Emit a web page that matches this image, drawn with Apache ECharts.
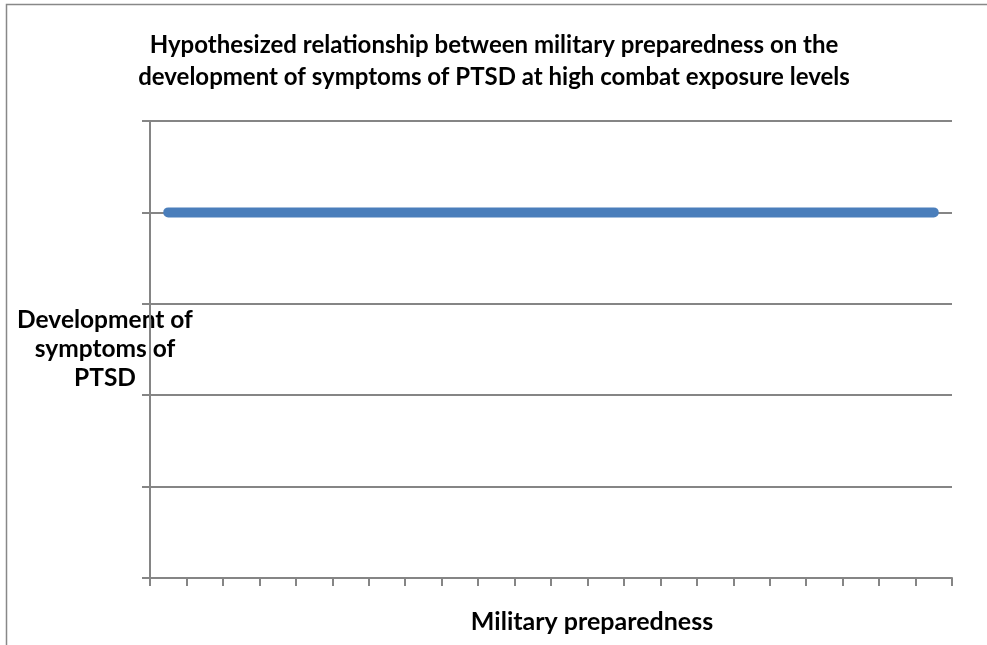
<!DOCTYPE html>
<html>
<head>
<meta charset="utf-8">
<script src="https://cdn.jsdelivr.net/npm/echarts@6/dist/echarts.min.js"></script>
<style>
  html, body { margin: 0; padding: 0; background: #fff; }
  #chart { width: 987px; height: 645px; }
</style>
</head>
<body>
<div id="chart"></div>
<script>
// 22 category slots along the preparedness axis (no labels drawn)
const categories = Array.from({ length: 22 }, (_, i) => String(i + 1));
// Hypothesized symptom level: constant across preparedness
const symptomLevels = [4, 4, 4, 4, 4, 4, 4, 4, 4, 4, 4, 4, 4, 4, 4, 4, 4, 4, 4, 4, 4, 4];
const yMin = 0, yMax = 5, yStep = 1;

const chartTitle = 'Hypothesized relationship between military preparedness on the\ndevelopment of symptoms of PTSD at high combat exposure levels';
const xName = 'Military preparedness';
const yName = 'Development of\nsymptoms of\nPTSD';

const FONT = 'Lato';
const WEIGHT = 'bold';
const AXIS_GREY = '#858585';

const chart = echarts.init(document.getElementById('chart'), null, { renderer: 'canvas' });
chart.setOption({
  animation: false,
  backgroundColor: '#fff',
  graphic: [{
    type: 'rect',
    shape: { x: 6.5, y: 4.5, width: 1100, height: 800 },
    style: { fill: 'none', stroke: '#888', lineWidth: 1.5 },
    silent: true
  }],
  title: {
    text: chartTitle,
    left: 489,
    top: 24,
    textAlign: 'center',
    textStyle: {
      fontFamily: FONT, fontWeight: WEIGHT, fontSize: 24, lineHeight: 32, color: '#000'
    }
  },
  grid: { left: 150, right: 35, top: 121, bottom: 67, containLabel: false },
  xAxis: {
    type: 'category',
    data: categories,
    boundaryGap: true,
    name: xName,
    nameLocation: 'middle',
    nameGap: 31,
    nameTextStyle: {
      fontFamily: FONT, fontWeight: WEIGHT, fontSize: 25, color: '#000',
      padding: [0, 0, 0, 82]
    },
    axisLine: { show: true, lineStyle: { color: AXIS_GREY, width: 2 } },
    axisTick: { show: true, length: 8, lineStyle: { color: AXIS_GREY, width: 2 } },
    axisLabel: { show: false },
    splitLine: { show: false }
  },
  yAxis: {
    type: 'value',
    min: yMin, max: yMax, interval: yStep,
    name: yName,
    nameLocation: 'middle',
    nameRotate: 0,
    nameGap: 45,
    nameTextStyle: {
      fontFamily: FONT, fontWeight: WEIGHT, fontSize: 24.5, lineHeight: 29, color: '#000',
      align: 'center', verticalAlign: 'middle'
    },
    axisLine: { show: true, lineStyle: { color: AXIS_GREY, width: 2 } },
    axisTick: { show: true, length: 8, lineStyle: { color: AXIS_GREY, width: 2 } },
    axisLabel: { show: false },
    splitLine: { show: true, lineStyle: { color: AXIS_GREY, width: 2 } }
  },
  series: [{
    type: 'line',
    data: symptomLevels,
    showSymbol: false,
    lineStyle: { color: '#4A7EBB', width: 10, cap: 'round', join: 'round' },
    itemStyle: { color: '#4A7EBB' }
  }]
});
</script>
</body>
</html>
